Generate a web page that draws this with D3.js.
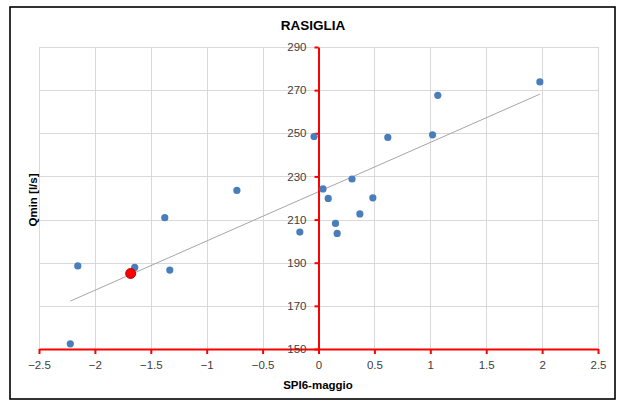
<!DOCTYPE html>
<html>
<head>
<meta charset="utf-8">
<script src="https://cdn.jsdelivr.net/npm/d3@7"></script>
<style>
  html, body { margin: 0; padding: 0; background: #fff; }
  svg { display: block; font-family: "Liberation Sans", "DejaVu Sans", sans-serif; }
</style>
</head>
<body>
<svg id="chart" width="617" height="401"></svg>
<script>
// SPI6 (May) against minimum discharge, Rasiglia spring
const spiValues = [-0.04, -0.73, 1.98, 1.067, 1.02, 0.62, 0.30, 0.04, 0.087, 0.486,
                   0.37, 0.152, 0.167, -0.167, -1.375, -2.153, -1.644, -1.33, -2.22];
const qminValues = [248.5, 223.5, 273.8, 267.6, 249.3, 248.1, 228.8, 224.2, 219.8, 220.1,
                    212.6, 208.2, 203.6, 204.2, 210.9, 188.5, 187.8, 186.6, 152.4];
// highlighted year
const highlightSpi = [-1.68];
const highlightQmin = [185];

const xTicks = [-2.5, -2, -1.5, -1, -0.5, 0, 0.5, 1, 1.5, 2, 2.5];
const yTicks = [150, 170, 190, 210, 230, 250, 270, 290];

const titleText = "RASIGLIA";
const xTitle = "SPI6-maggio";
const yTitle = "Qmin [l/s]";

const svg = d3.select("#chart");

const x = d3.scaleLinear().domain([-2.5, 2.5]).range([39, 598]);
const y = d3.scaleLinear().domain([150, 290]).range([349, 47]);

// outer frame
svg.append("rect")
  .attr("x", 10).attr("y", 7).attr("width", 605).attr("height", 392)
  .attr("fill", "#fff").attr("stroke", "#000").attr("stroke-width", 1.6);

// gridlines
const grid = svg.append("g").attr("stroke", "#d9d9d9").attr("stroke-width", 1);
grid.selectAll("line.v").data(xTicks).join("line")
  .attr("x1", d => Math.round(x(d)) + 0.5).attr("x2", d => Math.round(x(d)) + 0.5)
  .attr("y1", y(290)).attr("y2", y(150));
grid.selectAll("line.h").data(yTicks).join("line")
  .attr("y1", d => Math.round(y(d)) + 0.5).attr("y2", d => Math.round(y(d)) + 0.5)
  .attr("x1", x(-2.5)).attr("x2", x(2.5));

// linear trend of the series (least squares)
const pts = spiValues.map((v, i) => [v, qminValues[i]]);
const mx = d3.mean(spiValues), my = d3.mean(qminValues);
const slope = d3.sum(pts, p => (p[0] - mx) * (p[1] - my)) / d3.sum(pts, p => (p[0] - mx) ** 2);
const icpt = my - slope * mx;
const [xmin, xmax] = d3.extent(spiValues);
svg.append("line")
  .attr("x1", x(xmin)).attr("y1", y(icpt + slope * xmin))
  .attr("x2", x(xmax)).attr("y2", y(icpt + slope * xmax))
  .attr("stroke", "#a6a6a6").attr("stroke-width", 1);

// axes crossing at SPI = 0 and Qmin = 150
const xAxis = svg.append("g")
  .attr("transform", `translate(0,${y(150)})`)
  .call(d3.axisBottom(x).tickValues(xTicks).tickFormat(d3.format("")).tickSize(5).tickSizeOuter(0).tickPadding(7));
const yAxis = svg.append("g")
  .attr("transform", `translate(${x(0)},0)`)
  .call(d3.axisLeft(y).tickValues(yTicks).tickSize(4).tickSizeOuter(0).tickPadding(8));

[xAxis, yAxis].forEach(g => {
  g.select(".domain").attr("stroke", "#ff0000").attr("stroke-width", 2);
  g.selectAll(".tick line").attr("stroke", "#ff0000").attr("stroke-width", 2);
  g.selectAll(".tick text").attr("fill", "#404040")
    .style("font-size", "11.5px").style("font-family", "'Liberation Sans', sans-serif");
});

// points
svg.append("g").selectAll("circle").data(pts).join("circle")
  .attr("cx", d => x(d[0])).attr("cy", d => y(d[1])).attr("r", 3.6)
  .attr("fill", "#4a7ebb");

svg.append("g").selectAll("circle").data(highlightSpi.map((v, i) => [v, highlightQmin[i]])).join("circle")
  .attr("cx", d => x(d[0])).attr("cy", d => y(d[1])).attr("r", 5)
  .attr("fill", "#ff0000").attr("stroke", "#c00000").attr("stroke-width", 1);

// titles
svg.append("text").attr("x", 313).attr("y", 30).attr("text-anchor", "middle")
  .style("font-size", "13.5px").style("font-weight", "bold").attr("fill", "#000")
  .text(titleText);
svg.append("text").attr("x", 318).attr("y", 389).attr("text-anchor", "middle")
  .style("font-size", "11.5px").style("font-weight", "bold").attr("fill", "#000")
  .text(xTitle);
svg.append("text").attr("transform", "translate(37,200) rotate(-90)").attr("text-anchor", "middle")
  .style("font-size", "11.5px").style("font-weight", "bold").attr("fill", "#000")
  .text(yTitle);
</script>
</body>
</html>
